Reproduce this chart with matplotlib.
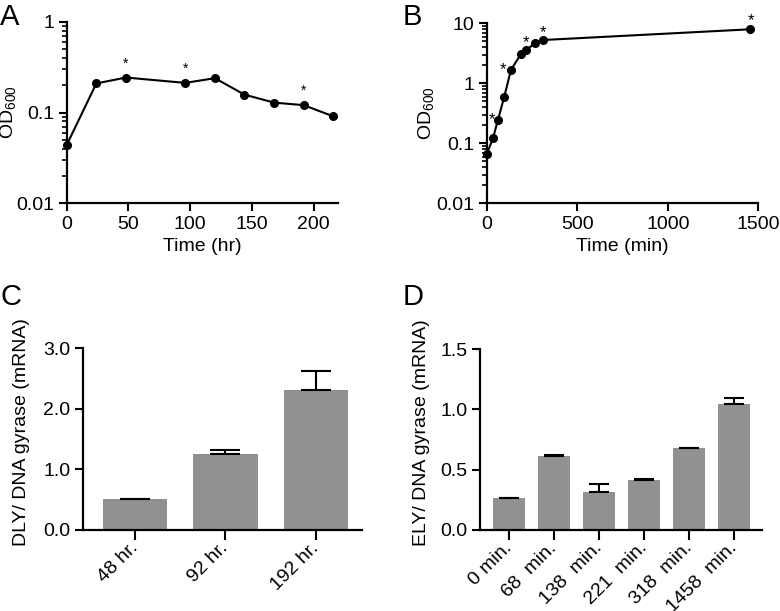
import numpy as np
import matplotlib
matplotlib.use('Agg')
import matplotlib.pyplot as plt
from matplotlib.ticker import FixedLocator, FixedFormatter, LogLocator, NullFormatter

plt.rcParams['font.family'] = ['Liberation Sans', 'DejaVu Sans']
plt.rcParams['mathtext.fontset'] = 'custom'
plt.rcParams['mathtext.rm'] = 'Liberation Sans'
plt.rcParams['font.size'] = 14

# panel A: OD600 over time (hr)
a_time = [0, 24, 48, 96, 120, 144, 168, 192, 216]
a_od = [0.044, 0.21, 0.244, 0.213, 0.24, 0.158, 0.129, 0.121, 0.091]
a_star = [48, 96, 192]

# panel B: OD600 over time (min)
b_time = [0, 35, 62, 97, 134, 189, 217, 267, 313, 1454]
b_od = [0.0656, 0.1225, 0.244, 0.598, 1.67, 3.08, 3.59, 4.64, 5.27, 7.94]
b_star = [62, 134, 217, 313, 1454]

# panel C
c_labels = ['48 hr.', '92 hr.', '192 hr.']
c_vals = [0.506, 1.25, 2.31]
c_err = [0.005, 0.07, 0.32]

# panel D
d_labels = ['0 min.', '68  min.', '138  min.', '221  min.', '318  min.', '1458  min.']
d_vals = [0.262, 0.616, 0.315, 0.414, 0.68, 1.044]
d_err = [0.004, 0.005, 0.063, 0.006, 0.0, 0.047]

bar_color = '#919191'
W, H = 780, 611

fig = plt.figure(figsize=(7.8, 6.11), dpi=100)

def box(l, r, t, b):
    return [l / W, 1 - b / H, (r - l) / W, (b - t) / H]

axA = fig.add_axes(box(66.7, 338.3, 22, 203.3))
axB = fig.add_axes(box(486.7, 758.3, 23.3, 203.3))
axC = fig.add_axes(box(83, 362, 348.3, 530))
axD = fig.add_axes(box(480, 762, 349, 530))

def style(ax):
    for s in ['top', 'right']:
        ax.spines[s].set_visible(False)
    for s in ['left', 'bottom']:
        ax.spines[s].set_linewidth(1.6)
    ax.tick_params(which='major', direction='out', length=6, width=1.5, pad=3)
    ax.tick_params(which='minor', direction='out', length=3.5, width=1.2)

def log_y(ax, lo, hi, labels):
    ax.set_yscale('log')
    ax.set_ylim(lo, hi)
    ax.yaxis.set_major_locator(FixedLocator([lo * 10 ** i for i in range(len(labels))]))
    ax.yaxis.set_major_formatter(FixedFormatter(labels))
    ax.yaxis.set_minor_locator(LogLocator(base=10, subs=np.arange(2, 10)))
    ax.yaxis.set_minor_formatter(NullFormatter())

# A
style(axA)
axA.plot(a_time, a_od, color='black', lw=1.5, marker='o', ms=5.5, clip_on=False)
log_y(axA, 0.01, 1, ['0.01', '0.1', '1'])
axA.set_xlim(0, 220)
axA.set_xticks([0, 50, 100, 150, 200])
for t in a_star:
    axA.annotate('*', (t, a_od[a_time.index(t)]), xytext=(0, 10), textcoords='offset points',
                 ha='center', va='center', fontsize=10)
axA.set_xlabel('Time (hr)', labelpad=4)
axA.set_ylabel(r'OD$_{\mathregular{600}}$')
axA.yaxis.set_label_coords(-0.176, 0.5)

# B
style(axB)
axB.plot(b_time, b_od, color='black', lw=1.5, marker='o', ms=5.5, clip_on=False)
log_y(axB, 0.01, 10, ['0.01', '0.1', '1', '10'])
axB.set_xlim(0, 1500)
axB.set_xticks([0, 500, 1000, 1500])
star_off = {62: (-4, 0), 134: (-6, 0), 217: (0, 5), 313: (0, 5), 1454: (1, 6)}
for t in b_star:
    axB.annotate('*', (t, b_od[b_time.index(t)]), xytext=star_off[t], textcoords='offset points',
                 ha='center', va='center', fontsize=12)
axB.set_xlabel('Time (min)', labelpad=4)
axB.set_ylabel(r'OD$_{\mathregular{600}}$')
axB.yaxis.set_label_coords(-0.183, 0.5)

def bars(ax, labels, vals, err, ylim, yticks, ylabel, xlim, cap):
    style(ax)
    x = np.arange(len(labels))
    ax.bar(x, vals, width=0.71, color=bar_color, zorder=2)
    lower = [0] * len(err)
    ax.errorbar(x, vals, yerr=[lower, err], fmt='none', ecolor='black', elinewidth=1.5,
                capsize=cap, capthick=1.5, zorder=3)
    ax.set_ylim(*ylim)
    ax.set_yticks(yticks)
    ax.set_yticklabels([f'{v:.1f}' for v in yticks])
    ax.set_xlim(*xlim)
    ax.set_xticks(x)
    ax.set_xticklabels(labels, rotation=45, ha='right', va='center', rotation_mode='anchor')
    ax.tick_params(axis='x', length=7, pad=4)
    ax.set_ylabel(ylabel)

bars(axC, c_labels, c_vals, c_err, (0, 3.0), [0.0, 1.0, 2.0, 3.0],
     'DLY/ DNA gyrase (mRNA)', (-0.575, 2.51), 10.5)
axC.yaxis.set_label_coords(-0.19, 0.54)

bars(axD, d_labels, d_vals, d_err, (0, 1.5), [0.0, 0.5, 1.0, 1.5],
     'ELY/ DNA gyrase (mRNA)', (-0.644, 5.615), 7)
axD.yaxis.set_label_coords(-0.177, 0.54)

# panel letters
for lbl, x, y in [('A', 0, 3), ('B', 403, 3), ('C', 0, 283), ('D', 403, 283)]:
    fig.text(x / W, 1 - y / H, lbl, fontsize=21, ha='left', va='top')

fig.savefig('out.png', dpi=100)
